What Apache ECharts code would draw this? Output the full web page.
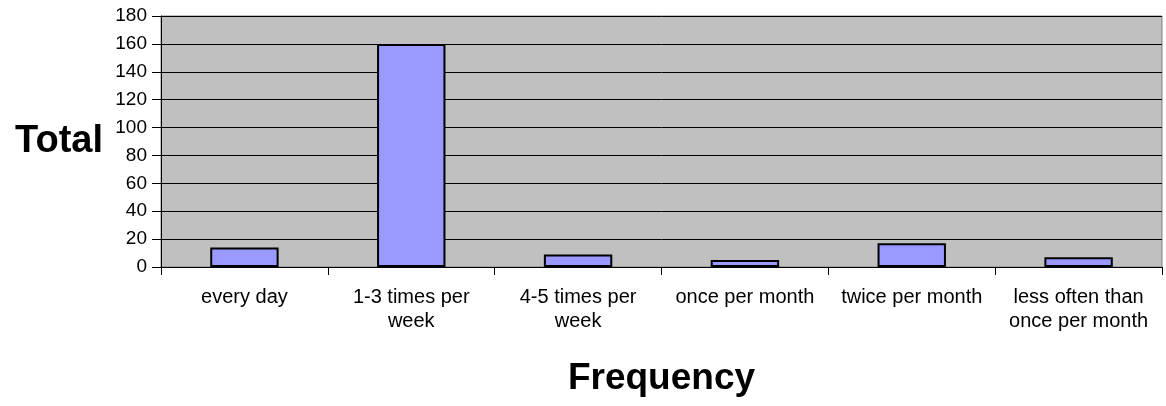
<!DOCTYPE html>
<html>
<head>
<meta charset="utf-8">
<script src="https://cdn.jsdelivr.net/npm/echarts@6/dist/echarts.min.js"></script>
<style>html,body{margin:0;padding:0;background:#fff}#c{width:1166px;height:406px}</style>
</head>
<body>
<div id="c"></div>
<script>
const categories = ['every day', '1-3 times per\nweek', '4-5 times per\nweek', 'once per month', 'twice per month', 'less often than\nonce per month'];
const totals = [14, 160, 9, 5, 17, 7];
const yTicks = [0, 20, 40, 60, 80, 100, 120, 140, 160, 180];

const chart = echarts.init(document.getElementById('c'));
chart.setOption({
  animation: false,
  textStyle: { fontFamily: 'Liberation Sans, Arial, sans-serif' },
  grid: { left: 161, right: 4, top: 16, bottom: 139, containLabel: false, outerBoundsMode: 'none', show: true, backgroundColor: '#C0C0C0', borderColor: '#808080', borderWidth: 1 },
  xAxis: {
    type: 'category',
    data: categories,
    name: 'Frequency',
    nameLocation: 'middle',
    nameGap: 93,
    nameTextStyle: { fontSize: 37, fontWeight: 'bold', color: '#000', fontFamily: 'Liberation Sans' },
    axisLine: { lineStyle: { color: '#000', width: 1 } },
    axisTick: { show: true, alignWithLabel: false, length: 8, lineStyle: { color: '#000' } },
    axisLabel: { color: '#000', fontSize: 20, lineHeight: 24, margin: 18, interval: 0, fontFamily: 'Liberation Sans' }
  },
  yAxis: {
    type: 'value',
    min: yTicks[0],
    max: yTicks[yTicks.length - 1],
    interval: 20,
    name: 'Total',
    nameLocation: 'middle',
    nameRotate: 0,
    nameGap: 58,
    nameTextStyle: { fontSize: 38, fontWeight: 'bold', color: '#000', fontFamily: 'Liberation Sans' },
    axisLine: { show: true, lineStyle: { color: '#000' } },
    axisTick: { show: true, length: 9, lineStyle: { color: '#000' } },
    axisLabel: { color: '#000', fontSize: 19, margin: 14, fontFamily: 'Liberation Sans' },
    splitLine: { show: true, lineStyle: { color: '#000', width: 1 } }
  },
  series: [{
    type: 'bar',
    data: totals,
    barWidth: '41%',
    itemStyle: { color: '#9999FF', borderColor: '#000', borderWidth: 2 }
  }]
});
</script>
</body>
</html>
